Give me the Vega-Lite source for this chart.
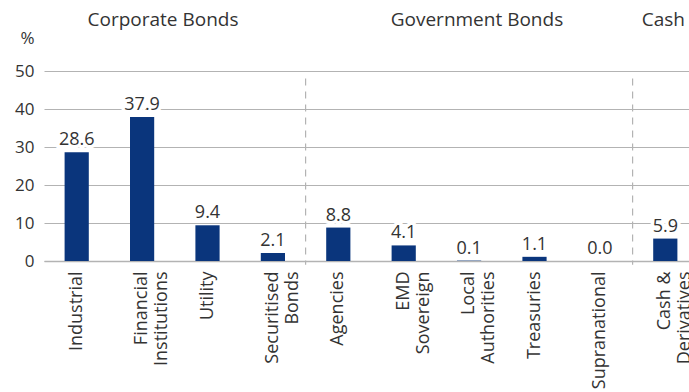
{
  "$schema": "https://vega.github.io/schema/vega-lite/v6.json",
  "width": 645,
  "height": 190,
  "autosize": {"type": "none"},
  "padding": {"left": 44, "top": 71, "right": 0, "bottom": 131},
  "background": "white",
  "config": {
    "view": {"stroke": null},
    "font": "Open Sans",
    "text": {"font": "Open Sans"}
  },
  "datasets": {
    "bars": [
      {"cat": "Industrial", "value": 28.6},
      {"cat": "Financial Institutions", "value": 37.9},
      {"cat": "Utility", "value": 9.4},
      {"cat": "Securitised Bonds", "value": 2.1},
      {"cat": "Agencies", "value": 8.8},
      {"cat": "EMD Sovereign", "value": 4.1},
      {"cat": "Local Authorities", "value": 0.1},
      {"cat": "Treasuries", "value": 1.1},
      {"cat": "Supranational", "value": 0.0},
      {"cat": "Cash & Derivatives", "value": 5.9}
    ],
    "seps": [
      {"cat": "Agencies", "value": 48, "lo": -1},
      {"cat": "Cash & Derivatives", "value": 48, "lo": -1}
    ],
    "h1": [{"cat": "Financial Institutions", "label": "Corporate Bonds", "value": 63.4}],
    "h2": [{"cat": "Local Authorities", "label": "Government Bonds", "value": 63.4}],
    "h3": [{"cat": "Cash & Derivatives", "label": "Cash", "value": 63.4}]
  },
  "encoding": {
    "x": {
      "field": "cat", "type": "nominal", "sort": null,
      "scale": {"paddingInner": 0, "paddingOuter": 0, "range": [0, 654]},
      "axis": {
        "title": null,
        "labelAngle": -90,
        "labelAlign": "right",
        "labelBaseline": "middle",
        "labelPadding": 10,
        "labelFontSize": 18,
        "labelColor": "#333333",
        "labelFont": "Open Sans",
        "labelLimit": 0,
        "labelOverlap": false,
        "labelLineHeight": 20,
        "labelExpr": "datum.label == 'Cash & Derivatives' ? ['Cash &', 'Derivatives'] : split(datum.label, ' ')",
        "ticks": false,
        "domainColor": "#b3b3b3",
        "domainWidth": 1.5
      }
    },
    "y": {
      "field": "value", "type": "quantitative",
      "scale": {"domain": [0, 50], "nice": false},
      "axis": {
        "title": "%",
        "titleAngle": 0,
        "titleX": -17,
        "titleY": -33,
        "titleAlign": "center",
        "titleBaseline": "middle",
        "titleFontSize": 17,
        "titleFontWeight": "normal",
        "titleColor": "#333333",
        "titleFont": "Open Sans",
        "values": [0, 10, 20, 30, 40, 50],
        "labelOverlap": false,
        "ticks": false,
        "domain": false,
        "labelPadding": 10,
        "labelFontSize": 17,
        "labelColor": "#333333",
        "labelFont": "Open Sans",
        "gridColor": "#b3b3b3",
        "gridWidth": 1.2
      }
    }
  },
  "layer": [
    {
      "data": {"name": "bars"},
      "mark": {"type": "bar", "color": "#0a357c", "width": {"band": 0.37}}
    },
    {
      "data": {"name": "seps"},
      "mark": {"type": "rule", "color": "#b3b3b3", "strokeDash": [7, 6], "strokeWidth": 1.2},
      "encoding": {
        "x": {"field": "cat", "type": "nominal", "sort": null, "bandPosition": 0},
        "y2": {"field": "lo"}
      }
    },
    {
      "data": {"name": "bars"},
      "mark": {"type": "text", "baseline": "alphabetic", "dy": -7, "fontSize": 18, "stroke": "white", "strokeWidth": 7, "fill": "white"},
      "encoding": {
        "text": {"field": "value", "type": "quantitative", "format": ".1f"}
      }
    },
    {
      "data": {"name": "bars"},
      "mark": {"type": "text", "baseline": "alphabetic", "dy": -7, "fontSize": 18, "color": "#333333"},
      "encoding": {
        "text": {"field": "value", "type": "quantitative", "format": ".1f"}
      }
    },
    {
      "data": {"name": "h1"},
      "mark": {"type": "text", "baseline": "middle", "align": "center", "fontSize": 19, "color": "#333333"},
      "encoding": {
        "x": {"field": "cat", "type": "nominal", "sort": null, "bandPosition": 0.82},
        "text": {"field": "label"}
      }
    },
    {
      "data": {"name": "h2"},
      "mark": {"type": "text", "baseline": "middle", "align": "center", "fontSize": 19, "color": "#333333"},
      "encoding": {
        "x": {"field": "cat", "type": "nominal", "sort": null, "bandPosition": 0.62},
        "text": {"field": "label"}
      }
    },
    {
      "data": {"name": "h3"},
      "mark": {"type": "text", "baseline": "middle", "align": "center", "fontSize": 19, "color": "#333333"},
      "encoding": {
        "x": {"field": "cat", "type": "nominal", "sort": null, "bandPosition": 0.47},
        "text": {"field": "label"}
      }
    }
  ]
}
